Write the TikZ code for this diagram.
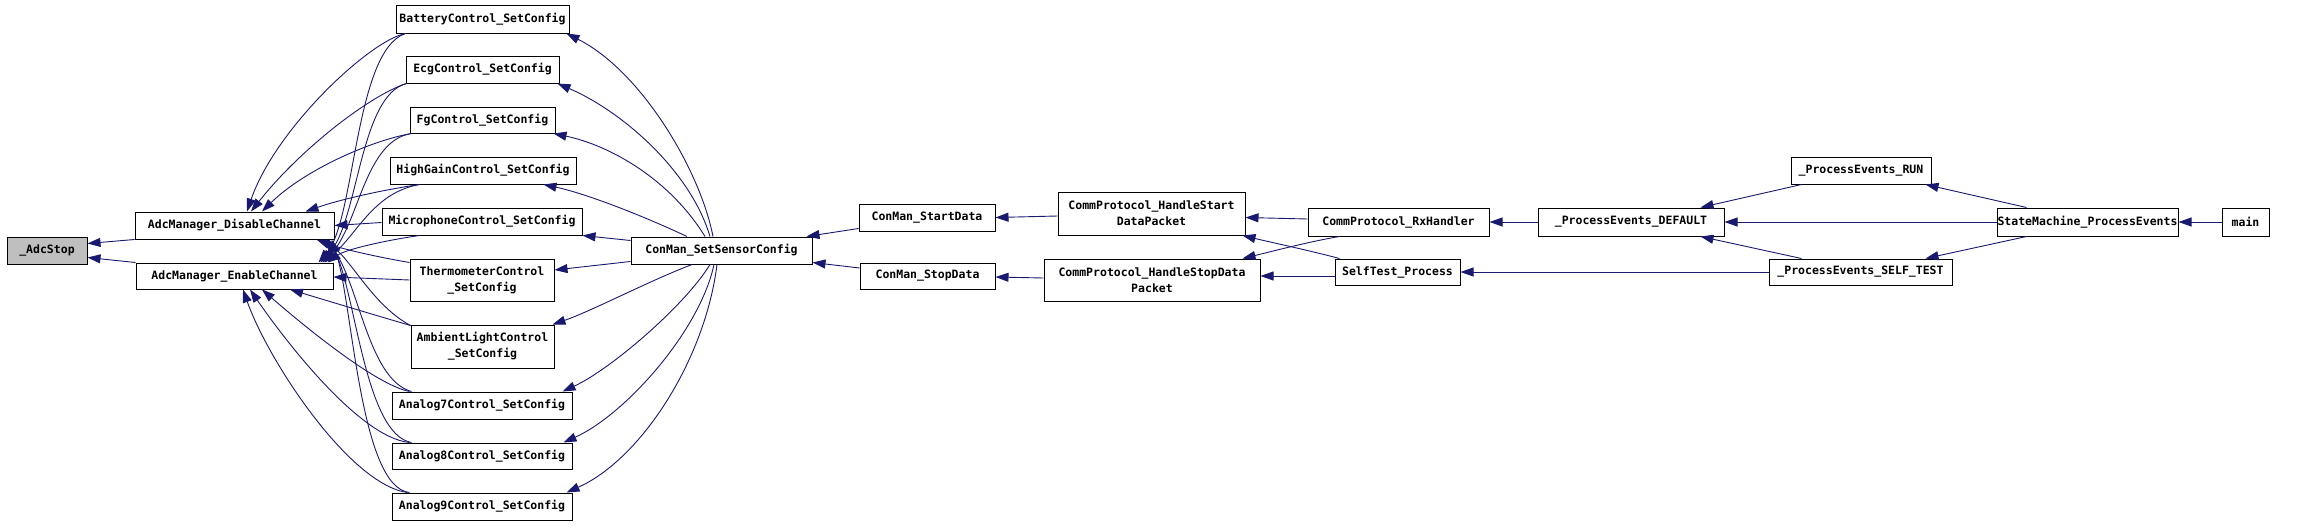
\documentclass[tikz,border=0pt]{standalone}
\usepackage{fontspec}
\usepackage{tikz}
\usetikzlibrary{calc, arrows.meta, positioning}
\newfontfamily\dotfont{DejaVu Sans Mono}
\definecolor{edgeblue}{HTML}{191970}
\definecolor{rootgray}{HTML}{BFBFBF}
\tikzset{>={Triangle[length=13pt,width=9pt]}}
\tikzset{fn/.style={draw, line width=1pt, inner sep=0pt, minimum height=27,
    align=center, font=\dotfont\bfseries\fontsize{11.5}{16}\selectfont}}
\tikzset{call/.style={->, draw=edgeblue, line width=0.9pt}}

\begin{document}
\begin{tikzpicture}[x=1pt, y=-1pt]
  \useasboundingbox (0,0) rectangle (2323,525);
  % callee side
  \node[fn, fill=rootgray, minimum width=80] (adcstop) at (47,250.5) {\_AdcStop};
  \node[fn, minimum width=199] (disable) at (234.5,225.5) {AdcManager\_DisableChannel};
  \node[fn, minimum width=197, minimum height=26] (enable) at (234.5,276) {AdcManager\_EnableChannel};
  % sensor configs
  \node[fn, minimum width=173, minimum height=28] (battery) at (482.5,19) {BatteryControl\_SetConfig};
  \node[fn, minimum width=153] (ecg) at (482.5,69.5) {EcgControl\_SetConfig};
  \node[fn, minimum width=145, minimum height=26] (fg) at (482.5,120) {FgControl\_SetConfig};
  \node[fn, minimum width=186] (highgain) at (483,170.5) {HighGainControl\_SetConfig};
  \node[fn, minimum width=200] (micro) at (482,221.5) {MicrophoneControl\_SetConfig};
  \node[fn, minimum width=144, minimum height=42] (thermo) at (482,280) {ThermometerControl\\\_SetConfig};
  \node[fn, minimum width=143, minimum height=43] (ambient) at (482.5,346.5) {AmbientLightControl\\\_SetConfig};
  \node[fn, minimum width=180] (analog7) at (482,405.5) {Analog7Control\_SetConfig};
  \node[fn, minimum width=180, minimum height=26] (analog8) at (482,456) {Analog8Control\_SetConfig};
  \node[fn, minimum width=180] (analog9) at (482,506.5) {Analog9Control\_SetConfig};
  % callers
  \node[fn, minimum width=181] (setsensor) at (721.5,250.5) {ConMan\_SetSensorConfig};
  \node[fn, minimum width=136] (startdata) at (927,217.5) {ConMan\_StartData};
  \node[fn, minimum width=135, minimum height=26] (stopdata) at (927.5,276) {ConMan\_StopData};
  \node[fn, minimum width=187, minimum height=43] (hstart) at (1151.5,213.5) {CommProtocol\_HandleStart\\DataPacket};
  \node[fn, minimum width=216, minimum height=42] (hstop) at (1152,280) {CommProtocol\_HandleStopData\\Packet};
  \node[fn, minimum width=181, minimum height=28] (rxhandler) at (1398.5,222) {CommProtocol\_RxHandler};
  \node[fn, minimum width=125, minimum height=26] (selftest) at (1397.5,272) {SelfTest\_Process};
  \node[fn, minimum width=186, minimum height=28] (default) at (1631,222) {\_ProcessEvents\_DEFAULT};
  \node[fn, minimum width=140] (run) at (1861,170.5) {\_ProcessEvents\_RUN};
  \node[fn, minimum width=183, minimum height=26] (selftestev) at (1860.5,272) {\_ProcessEvents\_SELF\_TEST};
  \node[fn, minimum width=181, minimum height=28] (statemachine) at (2087.5,222) {StateMachine\_ProcessEvents};
  \node[fn, minimum width=47, minimum height=28] (main) at (2245.5,222) {main};

  \draw[call] (disable.south west) -- ($(adcstop.east)+(0,-7)$);
  \draw[call] (enable.north west) -- ($(adcstop.east)+(0,7)$);

  % configs -> disable / enable
  \draw[call] ($(battery.south west)+(10,0)$) .. controls +(-36,7) and +(28,-82) .. ($(disable.north)+(12.5,0)$);
  \draw[call] ($(battery.south west)+(10,0)$) .. controls +(-51,17) and +(37,-43) .. ($(enable.north east)+(-15,0)$);
  \draw[call] ($(ecg.south west)+(1,0)$) .. controls +(-37,12) and +(49,-62) .. ($(disable.north)+(16.5,0)$);
  \draw[call] ($(ecg.south west)+(1,0)$) .. controls +(-47,12) and +(38,-41) .. ($(enable.north east)+(-13,0)$);
  \draw[call] ($(fg.south west)+(2,0)$) .. controls +(-40,7) and +(43,-42) .. ($(disable.north)+(27.5,0)$);
  \draw[call] ($(fg.south west)+(2,0)$) .. controls +(-47,7) and +(36,-37) .. ($(enable.north east)+(-11,0)$);
  \draw[call] ($(highgain.south west)+(30,0)$) .. controls +(-40,6) and +(35,-12) .. ($(disable.north east)+(-29,0)$);
  \draw[call] ($(highgain.south west)+(30,0)$) .. controls +(-45,8) and +(34,-31) .. ($(enable.north east)+(-9,0)$);
  \draw[call] ($(micro.west)+(0,1)$) -- (disable.east);
  \draw[call] ($(micro.south west)+(38,0)$) .. controls +(-35,5) and +(18,-13) .. ($(enable.north east)+(-6,0)$);
  \draw[call] ($(thermo.north west)+(0,4)$) .. controls +(-35,-6) and +(24,9) .. ($(disable.south east)+(-18,0)$);
  \draw[call] (thermo.west) -- ($(enable.east)+(0,1)$);
  \draw[call] ($(ambient.north west)+(0,1)$) .. controls +(-39,-21) and +(30,18) .. ($(disable.south east)+(-14,0)$);
  \draw[call] ($(ambient.north west)+(0,1)$) .. controls +(-41,-12) and +(30,9) .. ($(enable.south)+(55.5,0)$);
  \draw[call] ($(analog7.north west)+(20,0)$) .. controls +(-44,-12) and +(34,40) .. ($(disable.south east)+(-10,0)$);
  \draw[call] ($(analog7.north west)+(18,0)$) .. controls +(-35,-7) and +(38,33) .. ($(enable.south)+(27.5,0)$);
  \draw[call] ($(analog8.north west)+(20,0)$) .. controls +(-47,-8) and +(27,50) .. ($(disable.south east)+(-6,0)$);
  \draw[call] ($(analog8.north west)+(18,0)$) .. controls +(-50,-5) and +(35,51) .. ($(enable.south)+(15.5,0)$);
  \draw[call] ($(analog9.north west)+(18,0)$) .. controls +(-50,-5) and +(21,60) .. ($(disable.south east)+(-3,0)$);
  \draw[call] ($(analog9.north west)+(16,0)$) .. controls +(-58,-8) and +(25,71) .. ($(enable.south)+(8.5,0)$);

  % set sensor config -> configs
  \draw[call] ($(setsensor.north)+(-8.5,0)$) .. controls +(-13,-67) and +(74,37) .. ($(battery.south east)+(-3,0)$);
  \draw[call] ($(setsensor.north)+(-11.5,0)$) .. controls +(-20,-67) and +(63,27) .. ($(ecg.south east)+(-2,0)$);
  \draw[call] ($(setsensor.north)+(-16.5,0)$) .. controls +(-35,-57) and +(57,12) .. ($(fg.south east)+(-2,0)$);
  \draw[call] ($(setsensor.north)+(-34.5,0)$) .. controls +(-47,-22) and +(42,9) .. ($(highgain.south east)+(-33,0)$);
  \draw[call] ($(setsensor.west)+(0,-10)$) -- (micro.south east);
  \draw[call] ($(setsensor.west)+(0,11)$) -- ($(thermo.east)+(0,-10)$);
  \draw[call] ($(setsensor.south)+(-29.5,0)$) .. controls +(-42,16) and +(38,-13) .. ($(ambient.north east)+(-2,0)$);
  \draw[call] ($(setsensor.south)+(-11.5,0)$) .. controls +(-25,41) and +(48,-22) .. ($(analog7.north east)+(-10,0)$);
  \draw[call] ($(setsensor.south)+(-7.5,0)$) .. controls +(-14,66) and +(62,-28) .. ($(analog8.north east)+(-9,0)$);
  \draw[call] ($(setsensor.south)+(-4.5,0)$) .. controls +(-12,96) and +(74,-33) .. ($(analog9.north east)+(-6,0)$);

  % protocol side
  \draw[call] ($(startdata.west)+(0,11)$) -- ($(setsensor.north east)+(-6,0)$);
  \draw[call] ($(stopdata.west)+(0,-8)$) -- ($(setsensor.south east)+(0,-2)$);
  \draw[call] ($(hstart.west)+(0,2.5)$) -- (startdata.east);
  \draw[call] ($(hstop.west)+(0,-2)$) -- ($(stopdata.east)+(0,1)$);
  \draw[call] ($(rxhandler.west)+(0,-3)$) -- ($(hstart.east)+(0,4)$);
  \draw[call] ($(rxhandler.south west)+(32,0)$) .. controls +(-30,5) and +(25,-6) .. ($(hstop.north east)+(-18,0)$);
  \draw[call] ($(selftest.north west)+(5,0)$) .. controls +(-30,-8) and +(25,6) .. ($(hstart.south east)+(-3,0)$);
  \draw[call] ($(selftest.west)+(0,4)$) -- ($(hstop.east)+(0,-4)$);
  \draw[call] (default.west) -- (rxhandler.east);
  \draw[call] (selftestev.west) -- (selftest.east);
  \draw[call] ($(run.south west)+(11,0)$) -- ($(default.north east)+(-24,0)$);
  \draw[call] ($(selftestev.north west)+(33,0)$) -- ($(default.south east)+(-24,0)$);
  \draw[call] (statemachine.west) -- (default.east);
  \draw[call] ($(statemachine.north west)+(30,0)$) -- ($(run.south east)+(-6,0)$);
  \draw[call] ($(statemachine.south west)+(30,0)$) -- ($(selftestev.north east)+(-27,0)$);
  \draw[call] (main.west) -- (statemachine.east);
\end{tikzpicture}
\end{document}
